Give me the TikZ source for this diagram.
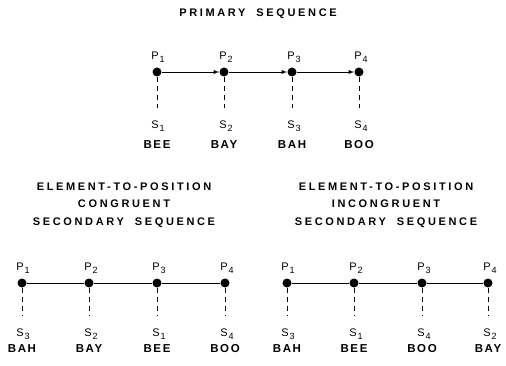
\documentclass[tikz,border=0pt]{standalone}
\usepackage{fontspec}
\setmainfont{Liberation Sans}[LetterSpace=14]
\newfontfamily\titlefont{Liberation Sans}[LetterSpace=24]
\tikzset{
  dot/.style={circle, fill, inner sep=0pt, minimum size=9pt},
  lab/.style={font=\fontsize{11}{12}\selectfont, inner sep=1pt},
  word/.style={font=\fontsize{11.5}{12}\selectfont\bfseries, inner sep=1pt},
  ttl/.style={font=\fontsize{11}{17.5}\selectfont\titlefont\bfseries, align=center, inner sep=0pt},
  link/.style={dash pattern=on 5pt off 4pt, line width=.7pt, shorten >=11pt}
}
\newcommand{\sub}[2]{#1\kern1pt\raisebox{-3pt}{\fontsize{9}{9}\selectfont #2}}
\begin{document}
\begin{tikzpicture}[x=1pt, y=-1pt, line width=.9pt]
\useasboundingbox (0,0) rectangle (506,366);

% primary sequence
\node [ttl] (ptitle) at (258,14) {PRIMARY\quad SEQUENCE};
\node [dot] (p1) at (157,72) {};
\node [dot] (p2) at (224,72) {};
\node [dot] (p3) at (292,72) {};
\node [dot] (p4) at (359,72) {};
\node [lab] (pl1) at (158,57) {\sub{P}{1}};
\node [lab] (pl2) at (226,57) {\sub{P}{2}};
\node [lab] (pl3) at (294,57) {\sub{P}{3}};
\node [lab] (pl4) at (361,57) {\sub{P}{4}};
\node [lab] (ps1) at (158,126) {\sub{S}{1}};
\node [lab] (ps2) at (226,126) {\sub{S}{2}};
\node [lab] (ps3) at (294,126) {\sub{S}{3}};
\node [lab] (ps4) at (361,126) {\sub{S}{4}};
\node [word] (pw1) at (157,145) {BEE};
\node [word] (pw2) at (224,145) {BAY};
\node [word] (pw3) at (292,145) {BAH};
\node [word] (pw4) at (359,145) {BOO};
\draw [-latex] (p1) -- (p2);
\draw [-latex] (p2) -- (p3);
\draw [-latex] (p3) -- (p4);
\draw [link] (p1) -- (ps1.north -| p1);
\draw [link] (p2) -- (ps2.north -| p2);
\draw [link] (p3) -- (ps3.north -| p3);
\draw [link] (p4) -- (ps4.north -| p4);

% congruent secondary sequence
\node [ttl] (ctitle) at (124,205) {ELEMENT-TO-POSITION\\CONGRUENT\\SECONDARY\quad SEQUENCE};
\node [dot] (c1) at (22,283) {};
\node [dot] (c2) at (89,283) {};
\node [dot] (c3) at (157,283) {};
\node [dot] (c4) at (225,283) {};
\node [lab] (cl1) at (23,268) {\sub{P}{1}};
\node [lab] (cl2) at (91,268) {\sub{P}{2}};
\node [lab] (cl3) at (159,268) {\sub{P}{3}};
\node [lab] (cl4) at (227,268) {\sub{P}{4}};
\node [lab] (cs1) at (23,334) {\sub{S}{3}};
\node [lab] (cs2) at (91,334) {\sub{S}{2}};
\node [lab] (cs3) at (159,334) {\sub{S}{1}};
\node [lab] (cs4) at (227,334) {\sub{S}{4}};
\node [word] (cw1) at (22,349) {BAH};
\node [word] (cw2) at (89,349) {BAY};
\node [word] (cw3) at (157,349) {BEE};
\node [word] (cw4) at (225,349) {BOO};
\draw (c1) -- (c2) -- (c3) -- (c4);
\draw [link] (c1) -- (cs1.north -| c1);
\draw [link] (c2) -- (cs2.north -| c2);
\draw [link] (c3) -- (cs3.north -| c3);
\draw [link] (c4) -- (cs4.north -| c4);

% incongruent secondary sequence
\node [ttl] (ititle) at (386,205) {ELEMENT-TO-POSITION\\INCONGRUENT\\SECONDARY\quad SEQUENCE};
\node [dot] (i1) at (287,283) {};
\node [dot] (i2) at (354,283) {};
\node [dot] (i3) at (422,283) {};
\node [dot] (i4) at (488,283) {};
\node [lab] (il1) at (288,268) {\sub{P}{1}};
\node [lab] (il2) at (356,268) {\sub{P}{2}};
\node [lab] (il3) at (424,268) {\sub{P}{3}};
\node [lab] (il4) at (490,268) {\sub{P}{4}};
\node [lab] (is1) at (288,334) {\sub{S}{3}};
\node [lab] (is2) at (356,334) {\sub{S}{1}};
\node [lab] (is3) at (424,334) {\sub{S}{4}};
\node [lab] (is4) at (490,334) {\sub{S}{2}};
\node [word] (iw1) at (287,349) {BAH};
\node [word] (iw2) at (354,349) {BEE};
\node [word] (iw3) at (422,349) {BOO};
\node [word] (iw4) at (488,349) {BAY};
\draw (i1) -- (i2) -- (i3) -- (i4);
\draw [link] (i1) -- (is1.north -| i1);
\draw [link] (i2) -- (is2.north -| i2);
\draw [link] (i3) -- (is3.north -| i3);
\draw [link] (i4) -- (is4.north -| i4);
\end{tikzpicture}
\end{document}
